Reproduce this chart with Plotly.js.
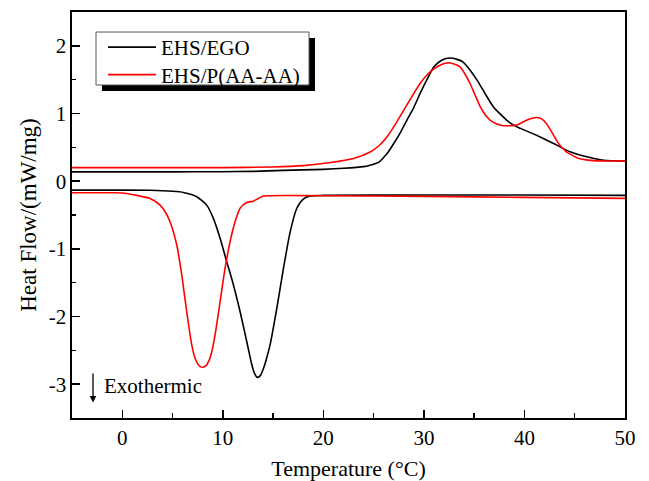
<!DOCTYPE html>
<html>
<head>
<meta charset="utf-8">
<script src="https://cdn.plot.ly/plotly-3.0.1.min.js"></script>
<style>html,body{margin:0;padding:0;background:#fff}#chart{width:649px;height:481px}</style>
</head>
<body>
<div id="chart"></div>
<script>
// Series names
var seriesNames = ["EHS/EGO", "EHS/P(AA-AA)"];

// EHS/EGO heating curve
var egoHeatT = [-5, 0, 5, 10, 13, 16, 20, 22, 24, 24.65, 25.2, 25.6, 25.9, 26.3, 27, 27.7, 28.3, 29, 29.6, 30.3, 31, 31.8, 32.6, 33.3, 33.9, 34.6, 35.3, 36.1, 36.9, 37.6, 38.25, 39, 39.6, 41.2, 42.9, 44.6, 46.2, 47.9, 50];
var egoHeatQ = [0.137, 0.137, 0.137, 0.14, 0.145, 0.16, 0.175, 0.19, 0.215, 0.236, 0.26, 0.29, 0.335, 0.40, 0.556, 0.73, 0.90, 1.09, 1.29, 1.50, 1.69, 1.79, 1.82, 1.80, 1.76, 1.64, 1.49, 1.29, 1.10, 0.99, 0.90, 0.82, 0.78, 0.68, 0.556, 0.43, 0.36, 0.31, 0.30];

// EHS/EGO cooling curve
var egoCoolT = [-5, 0, 2.76, 5, 6.08, 7.41, 8.4, 9.06, 9.73, 10.39, 11.05, 11.72, 12.38, 12.88, 13.15, 13.44, 13.75, 14.04, 14.35, 14.7, 15.37, 16.03, 16.7, 17.36, 18.0, 18.7, 20, 30, 40, 50];
var egoCoolQ = [-0.133, -0.133, -0.135, -0.15, -0.167, -0.23, -0.354, -0.55, -0.845, -1.19, -1.53, -1.93, -2.37, -2.71, -2.84, -2.90, -2.87, -2.77, -2.62, -2.42, -1.88, -1.29, -0.75, -0.40, -0.265, -0.22, -0.21, -0.205, -0.205, -0.21];

// EHS/P(AA-AA) heating curve
var paaHeatT = [-5, 0, 5, 10, 15, 18, 20.7, 23, 24.65, 25.5, 26.3, 27.2, 28, 28.8, 29.6, 30.3, 31, 31.7, 32.4, 33, 33.6, 34.1, 34.6, 35.1, 35.6, 36.1, 36.6, 37.2, 37.9, 38.6, 39.25, 40.2, 41.2, 41.7, 42.2, 42.7, 43.2, 43.7, 44.2, 45.5, 47.2, 50];
var paaHeatQ = [0.20, 0.20, 0.20, 0.20, 0.21, 0.23, 0.275, 0.335, 0.43, 0.52, 0.65, 0.85, 1.05, 1.25, 1.44, 1.57, 1.66, 1.72, 1.75, 1.73, 1.69, 1.58, 1.44, 1.27, 1.10, 0.98, 0.90, 0.85, 0.82, 0.82, 0.83, 0.90, 0.94, 0.92, 0.85, 0.73, 0.60, 0.50, 0.43, 0.33, 0.30, 0.30];

// EHS/P(AA-AA) cooling curve
var paaCoolT = [-5, -1, 0, 1.44, 2.76, 3.76, 4.3, 4.75, 5.42, 5.92, 6.41, 6.91, 7.2, 7.5, 7.75, 8.0, 8.3, 8.6, 8.9, 9.23, 9.73, 10.22, 10.72, 11.22, 11.72, 12.38, 13.04, 13.54, 14.04, 20, 30, 40, 50];
var paaCoolQ = [-0.172, -0.172, -0.175, -0.21, -0.255, -0.354, -0.46, -0.60, -0.944, -1.39, -1.93, -2.42, -2.60, -2.70, -2.74, -2.75, -2.73, -2.66, -2.52, -2.27, -1.78, -1.29, -0.895, -0.60, -0.40, -0.315, -0.295, -0.255, -0.22, -0.215, -0.225, -0.24, -0.255];

// Axis ticks
var xTickVals = [0, 10, 20, 30, 40, 50];
var xTickText = ["0", "10", "20", "30", "40", "50"];
var yTickVals = [-3, -2, -1, 0, 1, 2];
var yTickText = ["-3", "-2", "-1", "0", "1", "2"];

var FONT = '"Liberation Serif", "Times New Roman", Times, serif';

var traces = [
  {
    x: egoHeatT.concat([null], egoCoolT),
    y: egoHeatQ.concat([null], egoCoolQ),
    name: seriesNames[0], mode: 'lines', connectgaps: false, legend: 'legend',
    line: {color: '#000000', width: 1.6, shape: 'spline', smoothing: 0.6}
  },
  {
    x: paaHeatT.concat([null], paaCoolT),
    y: paaHeatQ.concat([null], paaCoolQ),
    name: seriesNames[1], mode: 'lines', connectgaps: false, legend: 'legend2',
    line: {color: '#ff0000', width: 1.6, shape: 'spline', smoothing: 0.6}
  }
];

var axisCommon = {
  showline: true, linecolor: '#000', linewidth: 1.6, mirror: true,
  ticks: 'inside', ticklen: 8, tickwidth: 1.4, tickcolor: '#000',
  showgrid: false, zeroline: false, tickmode: 'array',
  tickfont: {family: FONT, size: 21, color: '#000'}
};

var legendCommon = {
  xanchor: 'left', yanchor: 'top',
  bgcolor: 'rgba(0,0,0,0)', borderwidth: 0,
  font: {family: FONT, size: 21, color: '#000'},
  itemwidth: 48
};

var layout = {
  width: 649, height: 481,
  margin: {l: 72, r: 24, t: 12, b: 63},
  paper_bgcolor: '#fff', plot_bgcolor: '#fff',
  font: {family: FONT, color: '#000'},
  showlegend: true,
  xaxis: Object.assign({}, axisCommon, {
    range: [-5, 50], tickvals: xTickVals, ticktext: xTickText,
    minor: {tickmode: 'linear', tick0: 5, dtick: 10, ticks: 'inside', ticklen: 5, tickwidth: 1.4, tickcolor: '#000'},
    title: {text: 'Temperature (°C)', font: {family: FONT, size: 22, color: '#000'}, standoff: 12}
  }),
  yaxis: Object.assign({}, axisCommon, {
    range: [-3.5, 2.5], tickvals: yTickVals, ticktext: yTickText,
    minor: {tickmode: 'linear', tick0: 0.5, dtick: 1, ticks: 'inside', ticklen: 4, tickwidth: 1.4, tickcolor: '#000'},
    title: {text: 'Heat Flow/(mW/mg)', font: {family: FONT, size: 23, color: '#000'}, standoff: 5}
  }),
  legend: Object.assign({}, legendCommon, {x: 0.056, y: 0.963}),
  legend2: Object.assign({}, legendCommon, {x: 0.056, y: 0.8953}),
  shapes: [
    {type: 'rect', xref: 'paper', yref: 'paper', x0: 0.0542, x1: 0.4394, y0: 0.8054, y1: 0.936,
     fillcolor: '#000', line: {width: 0}, layer: 'above'},
    {type: 'rect', xref: 'paper', yref: 'paper', x0: 0.0434, x1: 0.4286, y0: 0.8202, y1: 0.9507,
     fillcolor: '#fff', line: {width: 1, color: '#555'}, layer: 'above'}
  ],
  annotations: [
    {x: -2.91, y: -3.27, xref: 'x', yref: 'y', ax: -2.91, ay: -2.82, axref: 'x', ayref: 'y',
     showarrow: true, arrowhead: 2, arrowsize: 1, arrowwidth: 1.3, arrowcolor: '#000', text: ''},
    {x: -2.0, y: -3.02, xref: 'x', yref: 'y', xanchor: 'left', yanchor: 'middle', showarrow: false,
     text: 'Exothermic', font: {family: FONT, size: 21, color: '#000'}}
  ]
};

Plotly.newPlot('chart', traces, layout, {displayModeBar: false, staticPlot: true});
</script>
</body>
</html>
